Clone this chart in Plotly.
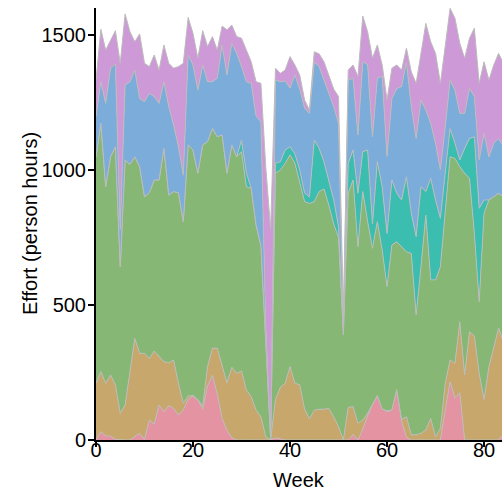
import plotly.graph_objects as go

weeks = list(range(0, 85))

pink = [0, 31, 15, 15, 2, 0, 0, 0, 12, 25, 2, 74, 58, 130, 105, 127, 117, 93, 111, 151,
        163, 148, 114, 200, 240, 170, 80, 36, 8, 0, 0, 0, 0, 0, 0, 0, 0, 8, 5, 0,
        0, 0, 0, 0, 0, 0, 0, 0, 0, 0, 0, 0, 0, 20, 0, 40, 90, 130, 163, 115,
        105, 110, 185, 70, 10, 0, 0, 0, 0, 0, 0, 0, 111, 216, 155, 175, 0, 0, 0, 0,
        0, 0, 0, 0, 20]
tan = [210, 222, 195, 226, 202, 99, 130, 250, 364, 296, 319, 228, 272, 179, 185, 159, 179, 117, 25, 12,
       2, 2, 12, 72, 100, 170, 194, 176, 261, 247, 256, 185, 160, 111, 86, 12, 0, 142, 190, 210,
       272, 210, 205, 115, 78, 110, 114, 114, 117, 86, 49, 0, 121, 103, 62, 34, 9, 5, 2, 0,
       3, 2, 2, 6, 76, 19, 19, 25, 37, 80, 12, 43, 99, 80, 129, 263, 241, 401, 385, 247,
       150, 271, 346, 414, 344]
green = [839, 920, 728, 808, 882, 542, 907, 771, 673, 691, 580, 614, 633, 654, 790, 621, 624, 706, 673, 930,
         909, 838, 967, 833, 814, 783, 856, 776, 824, 802, 812, 753, 772, 685, 634, 338, 5, 838, 805, 815,
         784, 815, 746, 768, 798, 773, 806, 816, 753, 714, 701, 389, 793, 840, 654, 846, 710, 575, 644, 589,
         460, 610, 547, 640, 611, 672, 444, 617, 796, 513, 581, 599, 630, 753, 759, 574, 747, 568, 380, 265,
         690, 618, 555, 500, 537]
teal = [0, 0, 0, 0, 0, 0, 0, 0, 0, 0, 0, 0, 0, 0, 0, 0, 0, 0, 0, 0,
        0, 0, 0, 0, 0, 0, 0, 0, 0, 0, 42, 52, 0, 0, 0, 0, 0, 37, 31, 49,
        30, 35, 49, 32, 24, 228, 160, 100, 90, 90, 40, 6, 111, 111, 198, 148, 265, 90, 222, 234,
        197, 241, 180, 173, 278, 149, 290, 296, 87, 376, 296, 179, 150, 105, 56, 25, 92, 148, 358, 346,
        49, 0, 0, 0, 0]
blue = [149, 154, 309, 328, 307, 139, 278, 306, 321, 253, 352, 368, 309, 284, 247, 328, 247, 170, 172, 333,
        315, 308, 296, 222, 173, 217, 333, 364, 376, 383, 273, 337, 389, 404, 460, 70, 5, 308, 296, 256,
        217, 292, 300, 315, 310, 290, 303, 303, 318, 345, 383, 35, 308, 266, 216, 333, 316, 323, 309, 408,
        285, 302, 388, 420, 425, 395, 364, 321, 302, 204, 210, 179, 170, 179, 197, 173, 130, 185, 149, 179,
        247, 160, 198, 203, 185]
purple = [135, 194, 197, 104, 123, 615, 263, 185, 105, 239, 142, 99, 154, 123, 136, 160, 210, 297, 414, 139,
          117, 118, 127, 130, 167, 104, 70, 167, 68, 62, 105, 117, 80, 127, 141, 590, 770, 44, 31, 40,
          117, 37, 52, 29, 12, 37, 47, 68, 72, 65, 99, 30, 37, 49, 216, 169, 122, 291, 123, 43,
          209, 112, 87, 61, 51, 129, 204, 173, 321, 302, 333, 321, 300, 266, 266, 259, 204, 186, 253, 284,
          265, 284, 290, 315, 309]

x_ticks = [0, 20, 40, 60, 80]
y_ticks = [0, 500, 1000, 1500]

series = [
    ("pink", pink, "#e493a3"),
    ("tan", tan, "#c8a76c"),
    ("green", green, "#86b774"),
    ("teal", teal, "#3bbeaf"),
    ("blue", blue, "#7cadda"),
    ("purple", purple, "#cd99d6"),
]

fig = go.Figure()
for name, vals, col in series:
    fig.add_trace(go.Scatter(
        x=weeks, y=vals, name=name, mode="lines",
        stackgroup="one", fillcolor=col,
        line=dict(color="#bcbcbc", width=1),
        hoverinfo="skip",
    ))

FONT = "Liberation Sans, Arial, sans-serif"
fig.update_layout(
    width=502, height=491,
    margin=dict(l=96, r=0, t=8, b=51, autoexpand=False),
    plot_bgcolor="white", paper_bgcolor="white",
    showlegend=False,
    font=dict(family=FONT, size=20, color="black"),
    annotations=[
        dict(text="Week", xref="paper", yref="paper", x=0.5, y=-40 / 432,
             xanchor="center", yanchor="middle", showarrow=False,
             font=dict(family=FONT, size=20, color="black")),
        dict(text="Effort (person hours)", xref="paper", yref="paper",
             x=-66 / 406, y=0.5, textangle=-90,
             xanchor="center", yanchor="middle", showarrow=False,
             font=dict(family=FONT, size=20, color="black")),
    ],
)
fig.update_xaxes(
    range=[0, 83.7], tickvals=x_ticks, automargin=False,
    ticks="outside", ticklen=5, tickwidth=2, tickcolor="black",
    ticklabelstandoff=-14,
    showline=True, linecolor="black", linewidth=2,
    showgrid=False, zeroline=False,
)
fig.update_yaxes(
    range=[0, 1600], tickvals=y_ticks, automargin=False,
    ticks="outside", ticklen=6, tickwidth=2, tickcolor="black",
    ticklabelstandoff=-2,
    showline=True, linecolor="black", linewidth=2,
    showgrid=False, zeroline=False,
)

# remove the default page margin so the 502x491 figure fills the window exactly
fig.write_html(
    "out.html",
    config={"displayModeBar": False, "staticPlot": True},
    post_script="document.body.style.margin='0';document.body.style.overflow='hidden';",
)
